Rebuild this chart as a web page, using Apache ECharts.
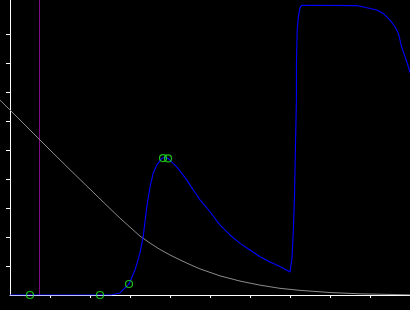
<!DOCTYPE html>
<html>
<head>
<meta charset="utf-8">
<script src="https://cdn.jsdelivr.net/npm/echarts@6/dist/echarts.min.js"></script>
<style>html,body{margin:0;padding:0;background:#000;}#c{width:410px;height:310px;}</style>
</head>
<body>
<div id="c"></div>
<script>
// Gray decreasing curve
var grayX = [-0.25, 0, 0.5, 1, 1.5, 2, 2.5, 2.75, 3, 3.25, 3.5, 3.75, 4, 4.25, 4.5, 4.75, 5, 5.25, 5.75, 6.25, 6.75, 7.25, 8, 8.75, 10];
var grayY = [6.72, 6.38, 5.69, 5.0, 4.32, 3.65, 2.98, 2.65, 2.34, 2.03, 1.79, 1.57, 1.38, 1.21, 1.05, 0.90, 0.78, 0.66, 0.48, 0.34, 0.23, 0.16, 0.086, 0.04, 0.005];
// Blue curve
var blueX = [0, 2.525, 2.75, 2.975, 3.125, 3.25, 3.33, 3.42, 3.5, 3.58, 3.67, 3.79, 3.85, 3.95, 4.17, 4.42, 4.5, 4.67, 4.75, 5.0, 5.25, 5.5, 5.75, 6.0, 6.25, 6.5, 6.75, 7.0, 7.025, 7.05, 7.08, 7.11, 7.16, 7.16, 7.18, 7.21, 7.25, 7.29, 8.67, 9.17, 9.33, 9.5, 9.625, 9.71, 9.79, 9.875, 9.96, 10];
var blueY = [0, 0, 0.07, 0.38, 0.86, 1.45, 2.01, 3.04, 3.73, 4.20, 4.48, 4.71, 4.74, 4.71, 4.42, 3.97, 3.79, 3.45, 3.28, 2.87, 2.41, 2.07, 1.78, 1.55, 1.32, 1.14, 0.98, 0.79, 0.75, 1.28, 2.14, 3.28, 6.72, 7.93, 9.14, 9.60, 9.90, 9.99, 9.98, 9.83, 9.71, 9.48, 9.25, 9.02, 8.56, 8.22, 7.87, 7.66];
// Markers
var markX = [0.5, 2.25, 2.975, 3.825, 3.95];
var markY = [0, 0, 0.38, 4.72, 4.71];
// Vertical marker line position
var vLineX = 0.7375;
var yTicks = [1, 2, 3, 4, 5, 6, 7, 8, 9];
var xTicks = [1, 2, 3, 4, 5, 6, 7, 8, 9, 10];
var yMax = 295 / 29;

function zip(a, b) { return a.map(function (v, i) { return [v, b[i]]; }); }

var chart = echarts.init(document.getElementById('c'), null, { renderer: 'canvas' });
chart.setOption({
  backgroundColor: '#000',
  animation: false,
  grid: [
    { left: 10, right: 0, top: 0, bottom: 15 },
    { left: 0, right: 0, top: 0, bottom: 15 }
  ],
  xAxis: [{
    type: 'value', min: 0, max: 10, gridIndex: 0,
    splitLine: { show: false },
    axisLine: { show: true, onZero: false, lineStyle: { color: '#fff', width: 1 } },
    axisTick: { show: true, length: 3, customValues: xTicks, lineStyle: { color: '#fff' } },
    axisLabel: { show: false }
  }, {
    type: 'value', min: -0.25, max: 10, gridIndex: 1, show: false
  }],
  yAxis: [{
    type: 'value', min: 0, max: yMax, gridIndex: 0,
    splitLine: { show: false },
    axisLine: { show: true, onZero: false, lineStyle: { color: '#fff', width: 1 } },
    axisTick: { show: true, length: 4, customValues: yTicks, lineStyle: { color: '#fff' } },
    axisLabel: { show: false }
  }, {
    type: 'value', min: 0, max: yMax, gridIndex: 1, show: false
  }],
  series: [
    {
      type: 'line', data: [[vLineX, 0], [vLineX, yMax]],
      showSymbol: false, lineStyle: { color: '#800a80', width: 1 }, z: 1
    },
    {
      type: 'line', data: zip(grayX, grayY), xAxisIndex: 1, yAxisIndex: 1,
      showSymbol: false, smooth: false,
      lineStyle: { color: '#8c8c8c', width: 1 }, z: 2
    },
    {
      type: 'line', data: zip(blueX, blueY),
      showSymbol: false, lineStyle: { color: '#0000ff', width: 1.1 }, z: 3
    },
    {
      type: 'scatter', data: zip(markX, markY), symbol: 'circle', symbolSize: 7,
      itemStyle: { color: 'rgba(0,0,0,0)', borderColor: '#22ee22', borderWidth: 1.2 }, z: 4
    }
  ]
});
</script>
</body>
</html>
